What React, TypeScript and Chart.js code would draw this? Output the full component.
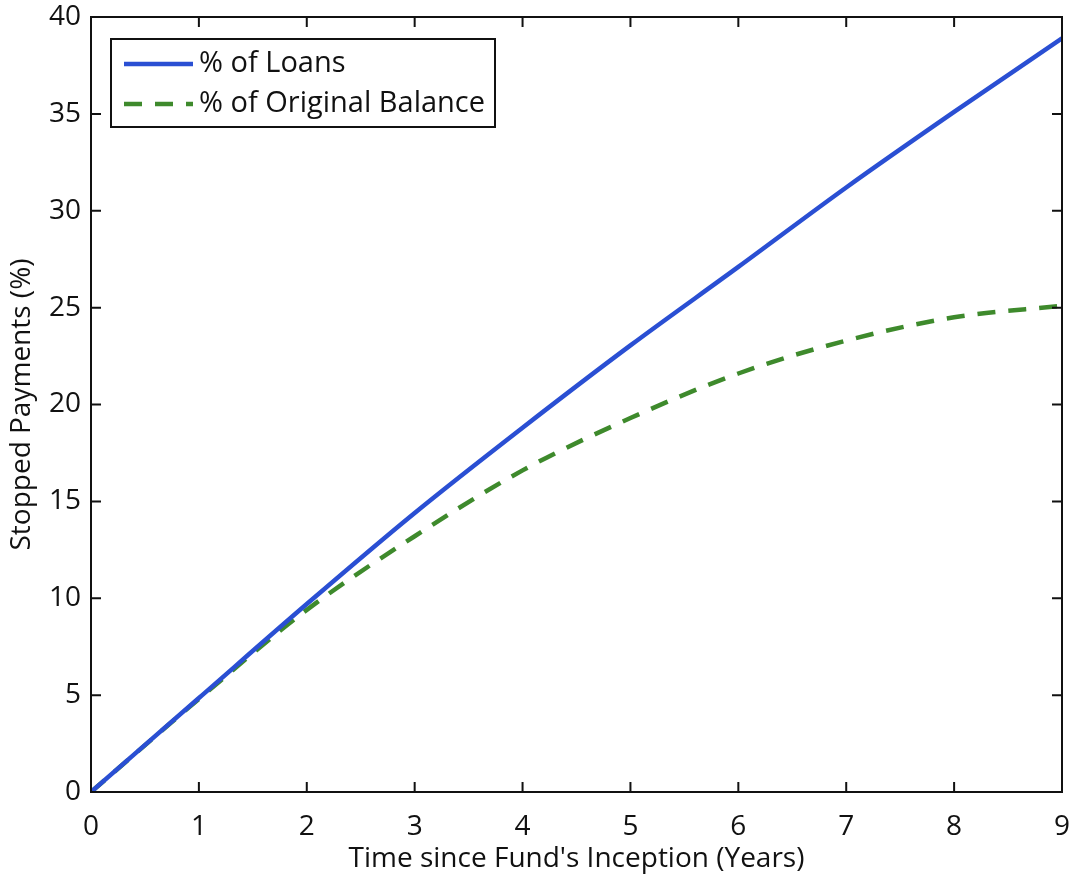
import React, { useEffect, useRef } from "react";
import { Chart, registerables } from "chart.js";

Chart.register(...registerables);

// Years since the fund started
const years = [0, 1, 2, 3, 4, 5, 6, 7, 8, 9];
// Share of loans that stopped paying (%)
const pctLoans = [0, 4.85, 9.7, 14.4, 18.8, 23.05, 27.1, 31.2, 35.1, 38.9];
// Share of original balance that stopped paying (%)
const pctBalance = [0, 4.8, 9.4, 13.2, 16.6, 19.3, 21.6, 23.3, 24.5, 25.1];

const seriesLabels = ["% of Loans", "% of Original Balance"];
const xTitle = "Time since Fund's Inception (Years)";
const yTitle = "Stopped Payments (%)";

const FONT = "'Open Sans', sans-serif";
const FONT_SIZE = 28;
const LEGEND_FONT_SIZE = 29;

// Boxed axes with inward ticks on all four sides, plus an in-plot legend
const boxPlugin = {
  id: "boxAxes",
  afterDatasetsDraw(chart: any) {
    const { ctx, chartArea: a, scales } = chart;
    const tick = 10;
    ctx.save();
    ctx.strokeStyle = "#111";
    ctx.lineWidth = 2;
    ctx.strokeRect(a.left, a.top, a.right - a.left, a.bottom - a.top);
    ctx.beginPath();
    scales.x.ticks.forEach((t: any) => {
      const px = scales.x.getPixelForValue(t.value);
      ctx.moveTo(px, a.bottom);
      ctx.lineTo(px, a.bottom - tick);
      ctx.moveTo(px, a.top);
      ctx.lineTo(px, a.top + tick);
    });
    scales.y.ticks.forEach((t: any) => {
      const py = scales.y.getPixelForValue(t.value);
      ctx.moveTo(a.left, py);
      ctx.lineTo(a.left + tick, py);
      ctx.moveTo(a.right, py);
      ctx.lineTo(a.right - tick, py);
    });
    ctx.stroke();

    // legend
    const lx = a.left + 20;
    const ly = a.top + 22;
    const lw = 384;
    const lh = 88;
    ctx.fillStyle = "#fff";
    ctx.fillRect(lx, ly, lw, lh);
    ctx.strokeStyle = "#111";
    ctx.lineWidth = 2;
    ctx.strokeRect(lx, ly, lw, lh);
    ctx.font = `${LEGEND_FONT_SIZE}px ${FONT}`;
    ctx.textBaseline = "middle";
    chart.data.datasets.forEach((ds: any, i: number) => {
      const cy = ly + 25 + i * 40;
      ctx.beginPath();
      ctx.strokeStyle = ds.borderColor;
      ctx.lineWidth = ds.borderWidth;
      ctx.setLineDash(ds.borderDash || []);
      ctx.moveTo(lx + 13, cy);
      ctx.lineTo(lx + 82, cy);
      ctx.stroke();
      ctx.setLineDash([]);
      ctx.fillStyle = "#111";
      ctx.fillText(ds.label, lx + 88, cy);
    });
    ctx.restore();
  },
};

function noOverflow(scale: any) {
  scale.paddingTop = 0;
  scale.paddingBottom = 0;
  scale.paddingLeft = 0;
  scale.paddingRight = 0;
}

export default function App() {
  const canvasRef = useRef<HTMLCanvasElement | null>(null);

  useEffect(() => {
    document.body.style.margin = "0";
    const canvas = canvasRef.current;
    if (!canvas) return;
    const chart = new Chart(canvas, {
      type: "line",
      data: {
        datasets: [
          {
            label: seriesLabels[0],
            data: years.map((x, i) => ({ x, y: pctLoans[i] })),
            borderColor: "#2a4fd3",
            borderWidth: 4.5,
            pointRadius: 0,
            cubicInterpolationMode: "monotone",
            fill: false,
          },
          {
            label: seriesLabels[1],
            data: years.map((x, i) => ({ x, y: pctBalance[i] })),
            borderColor: "#3e8a2c",
            borderWidth: 4.5,
            borderDash: [18, 13],
            pointRadius: 0,
            cubicInterpolationMode: "monotone",
            fill: false,
          },
        ],
      },
      options: {
        animation: false,
        responsive: false,
        maintainAspectRatio: false,
        layout: { padding: { top: 17, right: 11, left: 0, bottom: 0 } },
        plugins: { legend: { display: false }, tooltip: { enabled: false } },
        scales: {
          x: {
            type: "linear",
            min: 0,
            max: 9,
            grid: { display: false, drawTicks: false },
            border: { display: false },
            ticks: {
              stepSize: 1,
              color: "#111",
              padding: 18,
              font: { family: FONT, size: FONT_SIZE },
              maxRotation: 0,
            },
            title: {
              display: true,
              text: xTitle,
              color: "#111",
              font: { family: FONT, size: FONT_SIZE },
              padding: { top: 0, bottom: 4 },
            },
            afterFit(scale: any) {
              scale.height = 880 - 17 - 775;
              noOverflow(scale);
            },
          },
          y: {
            min: 0,
            max: 40,
            grid: { display: false, drawTicks: false },
            border: { display: false },
            ticks: {
              stepSize: 5,
              color: "#111",
              padding: 10,
              font: { family: FONT, size: FONT_SIZE },
            },
            title: {
              display: true,
              text: yTitle,
              color: "#111",
              font: { family: FONT, size: FONT_SIZE },
              padding: { top: 5, bottom: 0 },
            },
            afterFit(scale: any) {
              scale.width = 91;
              noOverflow(scale);
            },
          },
        },
      },
      plugins: [boxPlugin],
    } as any);
    return () => chart.destroy();
  }, []);

  return (
    <div style={{ width: 1073, height: 880 }}>
      <canvas ref={canvasRef} width={1073} height={880} style={{ display: "block" }} />
    </div>
  );
}
